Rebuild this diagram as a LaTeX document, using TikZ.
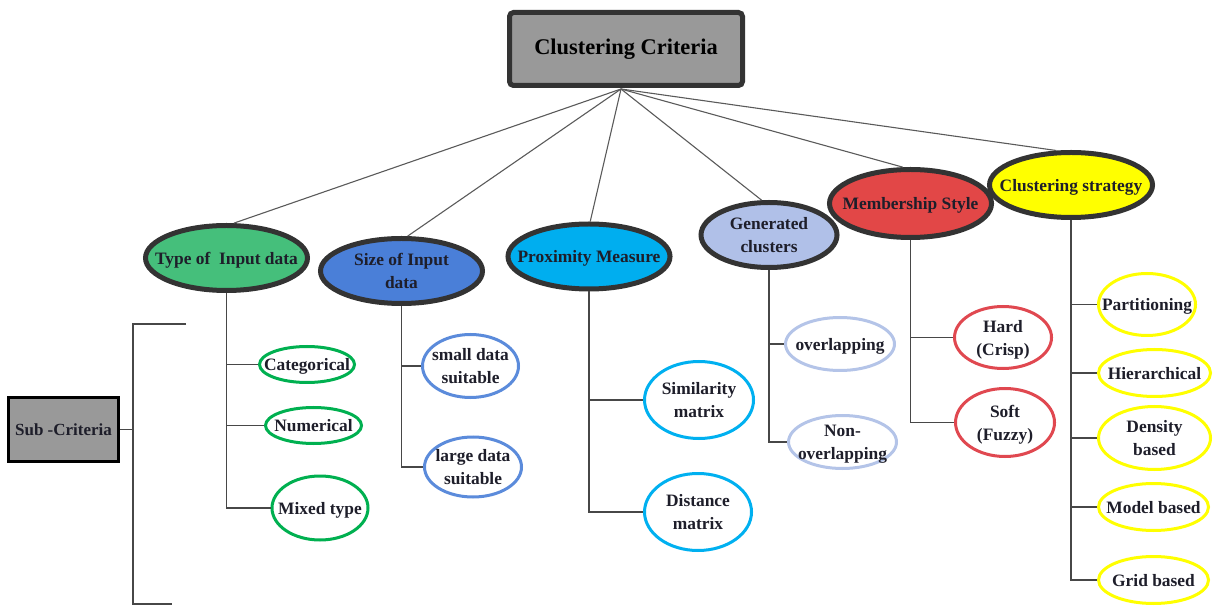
\documentclass[tikz,border=0pt]{standalone}
\usepackage{fontspec}
\setmainfont{Liberation Serif}
\usepackage{tikz}
\usetikzlibrary{shapes.geometric}
\definecolor{critborder}{HTML}{333333}
\definecolor{critgray}{HTML}{999999}
\definecolor{typegreen}{HTML}{45BF7B}
\definecolor{leafgreen}{HTML}{00B050}
\definecolor{sizeblue}{HTML}{4A7FD8}
\definecolor{leafblue}{HTML}{5B8BDB}
\definecolor{proxcyan}{HTML}{00AEEF}
\definecolor{leafcyan}{HTML}{00B0F0}
\definecolor{genlav}{HTML}{B0C0E8}
\definecolor{leaflav}{HTML}{B4C4E8}
\definecolor{membred}{HTML}{E24747}
\definecolor{leafred}{HTML}{E04850}
\definecolor{stratyellow}{HTML}{FFFF00}
\definecolor{txtdark}{HTML}{1E1E2A}
\definecolor{spokegray}{HTML}{5A5A5A}

% text centred in an ellipse, taking no room of its own
\newcommand{\inell}[1]{\raisebox{-0.8ex}[0pt][0pt]{\makebox[0pt]{\begin{tabular}{@{}c@{}}#1\end{tabular}}}}

\tikzset{
  critbox/.style={draw=critborder, line width=2.5pt, fill=critgray, rounded corners=2pt,
    minimum width=116.5pt, minimum height=36.5pt, font=\fontsize{11.2}{13}\selectfont\bfseries, text=black},
  subbox/.style={draw=black, line width=1.5pt, fill=critgray,
    minimum width=52.5pt, minimum height=31.5pt, font=\fontsize{8.5}{10}\selectfont\bfseries, text=txtdark},
  cat/.style={ellipse, draw=critborder, line width=2.5pt, inner sep=0pt,
    minimum width=81pt, minimum height=32.5pt, font=\fontsize{8.7}{11.5}\selectfont\bfseries, text=txtdark},
  leaf/.style={ellipse, draw=#1, line width=1.5pt, fill=white, inner sep=0pt,
    font=\fontsize{8.7}{11.5}\selectfont\bfseries, text=txtdark},
  spoke/.style={draw=spokegray, line width=0.55pt},
  branch/.style={draw=critborder!90, line width=0.8pt},
}

\begin{document}
\begin{tikzpicture}[x=0.5pt, y=-0.5pt]
  \useasboundingbox (0,0) rectangle (1213,608);

  % root and sub-criteria label
  \node[critbox] (root) at (626,49) {Clustering Criteria};
  \node[subbox] (subc) at (63.5,429.5) {Sub -Criteria};

  % criteria
  \node[cat, fill=typegreen] (type) at (226.5,258) {\inell{Type of~ Input data}};
  \node[cat, fill=sizeblue] (size) at (401.5,271) {\inell{Size of Input\\data}};
  \node[cat, fill=proxcyan] (prox) at (589,256.5) {\inell{Proximity Measure}};
  \node[cat, fill=genlav, minimum width=68pt] (gen) at (769,235) {\inell{Generated\\clusters}};
  \node[cat, fill=membred, minimum height=34pt] (memb) at (910.5,203.5) {\inell{Membership Style}};
  \node[cat, fill=stratyellow, minimum width=81.5pt] (strat) at (1071,185) {\inell{Clustering strategy}};

  % sub-criteria
  \node[leaf=leafgreen, minimum width=47.5pt, minimum height=18pt] (categ) at (307,364.5) {\inell{Categorical}};
  \node[leaf=leafgreen, minimum width=48pt, minimum height=18pt] (numer) at (313.5,425.5) {\inell{Numerical}};
  \node[leaf=leafgreen, minimum width=48pt, minimum height=32pt] (mixed) at (320,508) {\inell{Mixed type}};
  \node[leaf=leafblue, minimum width=48pt, minimum height=31.5pt] (small) at (470.5,366) {\inell{small data\\suitable}};
  \node[leaf=leafblue, minimum width=48.5pt, minimum height=30pt] (large) at (473,467) {\inell{large data\\suitable}};
  \node[leaf=leafcyan, minimum width=54.5pt, minimum height=38.5pt] (simil) at (699,400) {\inell{Similarity\\matrix}};
  \node[leaf=leafcyan, minimum width=53.5pt, minimum height=38.5pt] (dist) at (698,512) {\inell{Distance\\matrix}};
  \node[leaf=leaflav, minimum width=54.5pt, minimum height=26.5pt] (ovl) at (840,344) {\inell{overlapping}};
  \node[leaf=leaflav, minimum width=54pt, minimum height=26.5pt] (novl) at (842.5,442) {\inell{Non-\\overlapping}};
  \node[leaf=leafred, minimum width=48.5pt, minimum height=31pt] (hard) at (1003,337.5) {\inell{Hard\\(Crisp)}};
  \node[leaf=leafred, minimum width=49.5pt, minimum height=34pt] (soft) at (1005,422.5) {\inell{Soft\\(Fuzzy)}};
  \node[leaf=stratyellow, minimum width=48.5pt, minimum height=31pt] (part) at (1147,304.5) {\inell{Partitioning}};
  \node[leaf=stratyellow, minimum width=56pt, minimum height=23.5pt] (hier) at (1154.5,373) {\inell{Hierarchical}};
  \node[leaf=stratyellow, minimum width=56pt, minimum height=31.5pt] (dens) at (1154.5,438) {\inell{Density\\based}};
  \node[leaf=stratyellow, minimum width=55pt, minimum height=23.5pt] (model) at (1153.5,507) {\inell{Model based}};
  \node[leaf=stratyellow, minimum width=55pt, minimum height=23.5pt] (grid) at (1153.5,580) {\inell{Grid based}};

  % spokes from the root
  \coordinate (hub) at (621,89);
  \draw[spoke] (hub) -- (type.78);
  \draw[spoke] (hub) -- (size.80);
  \draw[spoke] (hub) -- (prox.88);
  \draw[spoke] (hub) -- (gen.102);
  \draw[spoke] (hub) -- (memb.102);
  \draw[spoke] (hub) -- (strat.113);

  % trunks and branches
  \foreach \p/\c in {type/categ, type/numer, type/mixed, size/small, size/large,
      prox/simil, prox/dist, gen/ovl, gen/novl, memb/hard, memb/soft,
      strat/part, strat/hier, strat/dens, strat/model, strat/grid}
    \draw[branch] (\p.south) |- (\c);

  % bracket of the sub-criteria label
  \coordinate (brtopend) at (186,324);
  \coordinate (brtop) at (133,324);
  \coordinate (brbot) at (133,604);
  \coordinate (brbotend) at (172,604);
  \draw[branch] (brtopend) -- (brtop) -- (brbot) -- (brbotend);
  \draw[branch] (subc) -- (subc -| brtop);
\end{tikzpicture}
\end{document}
